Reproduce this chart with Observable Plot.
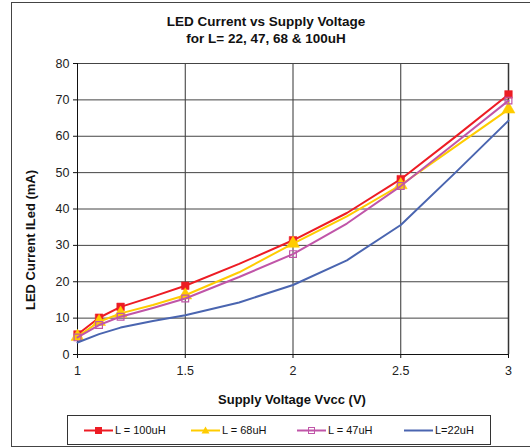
<!DOCTYPE html>
<html><head><meta charset="utf-8">
<script src="https://cdn.jsdelivr.net/npm/d3@7"></script>
<script src="https://cdn.jsdelivr.net/npm/@observablehq/plot@0.6"></script>
<style>
body{margin:0;background:#fff;font-family:"Liberation Sans",Arial,sans-serif;}
#wrap{position:relative;width:530px;height:448px;overflow:hidden;background:#fff}
#frame{position:absolute;left:11px;top:2px;width:600px;height:443px;border-left:1.5px solid #444;border-top:1.5px solid #444;border-bottom:1.5px solid #444;}
#title{position:absolute;left:0;width:532px;top:13px;text-align:center;font-weight:bold;font-size:13.5px;line-height:17px;color:#111}
#ylab{position:absolute;left:30px;top:240px;transform:translate(-50%,-50%) rotate(-90deg);white-space:nowrap;font-weight:bold;font-size:13px;color:#111}
#xlab{position:absolute;left:292px;top:399px;transform:translate(-50%,-50%);white-space:nowrap;font-weight:bold;font-size:13px;color:#111}
#legend{position:absolute;left:67px;top:415px;width:422px;height:28px;border:1px solid #333;background:#fff}
.item{position:absolute;top:6px;height:16px;display:flex;align-items:center;font-size:11px;color:#111}
.item svg{margin-right:2px}
#chart{position:absolute;left:0;top:0}
</style></head><body>
<div id="wrap">
<div id="frame"></div>
<div id="chart"></div>
<div id="title">LED Current vs Supply Voltage<br>for L= 22, 47, 68 &amp; 100uH</div>
<div id="ylab">LED Current ILed (mA)</div>
<div id="xlab">Supply Voltage Vvcc (V)</div>
<div id="legend"></div>
</div>
<script>
const voltage = [1, 1.1, 1.2, 1.35, 1.5, 1.75, 2, 2.25, 2.5, 2.75, 3];
const markerVoltage = [1, 1.1, 1.2, 1.5, 2, 2.5, 3];
const current100 = [5.5, 10.1, 13.1, 15.9, 18.9, 24.9, 31.4, 38.9, 48.2, 59.7, 71.5];
const current68  = [4.9, 9.0, 11.3, 13.6, 16.3, 22.6, 30.5, 38.0, 46.6, 57.0, 67.4];
const current47  = [4.7, 8.1, 10.4, 12.8, 15.4, 21.3, 27.6, 36.0, 46.3, 58.0, 69.8];
const current22  = [3.3, 5.6, 7.4, 9.2, 10.8, 14.3, 19.1, 25.9, 35.6, 49.8, 64.3];
const seriesNames = ["L = 100uH", "L = 68uH", "L = 47uH", "L=22uH"];
const seriesColors = ["#ed1c24", "#ffcc00", "#c055a8", "#4a65b0"];
const xTicks = [1, 1.5, 2, 2.5, 3];
const yTicks = [0, 10, 20, 30, 40, 50, 60, 70, 80];

const allSeries = [current100, current68, current47, current22];
const rows = [];
allSeries.forEach((vals, s) => vals.forEach((c, i) => rows.push({
  series: seriesNames[s], v: voltage[i], c, marker: markerVoltage.includes(voltage[i])
})));
const bySeries = name => rows.filter(d => d.series === name);
const markersOf = name => rows.filter(d => d.series === name && d.marker);

const chart = Plot.plot({
  width: 530, height: 448,
  marginTop: 63, marginBottom: 94, marginLeft: 77, marginRight: 22,
  style: {fontFamily: '"Liberation Sans", Arial, sans-serif', fontSize: "12.5px", color: "#222", background: "transparent"},
  x: {domain: [1, 3], ticks: xTicks},
  y: {domain: [0, 80], ticks: yTicks},
  marks: [
    Plot.gridX(xTicks, {stroke: "#333", strokeOpacity: 1, strokeWidth: 1}),
    Plot.gridY(yTicks, {stroke: "#444", strokeOpacity: 1, strokeWidth: 1}),
    Plot.ruleX([3], {stroke: "#333", strokeWidth: 1.5}),
    Plot.ruleX([1], {stroke: "#111", strokeWidth: 1}),
    Plot.ruleY([0], {stroke: "#111", strokeWidth: 1}),
    Plot.axisX({ticks: xTicks, tickSize: 4, tickPadding: 8, tickFormat: d => String(d), label: null, stroke: "#111"}),
    Plot.axisY({ticks: yTicks, tickSize: 4, tickPadding: 4, tickFormat: d => String(d), label: null, stroke: "#111"}),
    Plot.line(bySeries(seriesNames[0]), {x: "v", y: "c", stroke: seriesColors[0], strokeWidth: 2}),
    Plot.dot(markersOf(seriesNames[0]), {x: "v", y: "c", symbol: "square", r: 4.3, fill: seriesColors[0], stroke: seriesColors[0], strokeWidth: 0.5}),
    Plot.line(bySeries(seriesNames[1]), {x: "v", y: "c", stroke: seriesColors[1], strokeWidth: 2}),
    Plot.dot(markersOf(seriesNames[1]), {x: "v", y: "c", symbol: "triangle", r: 4.8, fill: seriesColors[1], stroke: seriesColors[1], strokeWidth: 0.5}),
    Plot.line(bySeries(seriesNames[2]), {x: "v", y: "c", stroke: seriesColors[2], strokeWidth: 2}),
    Plot.dot(markersOf(seriesNames[2]), {x: "v", y: "c", symbol: "square", r: 3.8, fill: "none", stroke: seriesColors[2], strokeWidth: 1.2}),
    Plot.line(bySeries(seriesNames[3]), {x: "v", y: "c", stroke: seriesColors[3], strokeWidth: 2})
  ]
});
document.getElementById("chart").appendChild(chart);

// legend
const legend = document.getElementById("legend");
const lx = [16, 123, 229, 336];
const symbols = ["square", "triangle", "opensquare", null];
seriesNames.forEach((name, i) => {
  const it = document.createElement("div");
  it.className = "item";
  it.style.left = lx[i] + "px";
  let mk = "";
  const col = seriesColors[i];
  if (symbols[i] === "square") mk = `<rect x="11" y="4" width="7" height="7" fill="${col}"/>`;
  if (symbols[i] === "triangle") mk = `<path d="M14.5,3.5 L18.5,10.5 L10.5,10.5 Z" fill="${col}"/>`;
  if (symbols[i] === "opensquare") mk = `<rect x="11.5" y="4.5" width="6" height="6" fill="none" stroke="${col}" stroke-width="1"/>`;
  it.innerHTML = `<svg width="29" height="15"><line x1="0" x2="29" y1="7.5" y2="7.5" stroke="${col}" stroke-width="2"/>${mk}</svg><span>${name}</span>`;
  legend.appendChild(it);
});
</script>
</body></html>
